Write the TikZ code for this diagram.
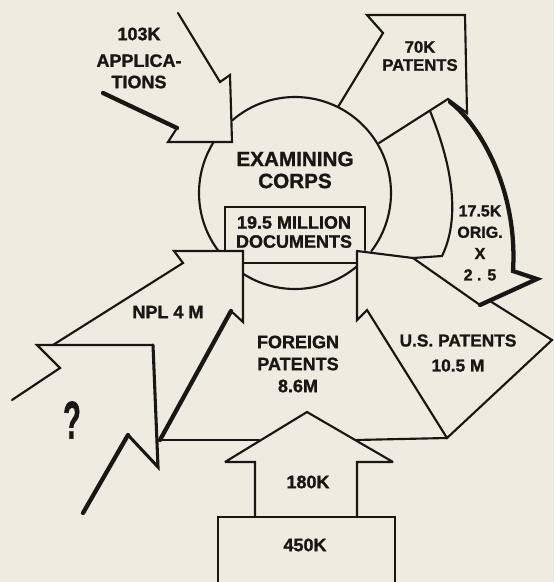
\documentclass[tikz,border=0pt]{standalone}
\usepackage{fontspec}
\setmainfont{Liberation Sans}[BoldFeatures={FakeBold=1.2}]
\definecolor{paper}{RGB}{239,235,224}
\definecolor{ink}{RGB}{26,22,20}
\tikzset{every picture/.style={line width=1.6pt}}
\tikzset{
  heavy/.style={line width=3.2pt},
  medium/.style={line width=2.3pt},
  lbl/.style={inner sep=0.75pt, align=center, text=ink, font=\bfseries\fontsize{13.5}{16}\selectfont},
}

\begin{document}
\begin{tikzpicture}[x=0.75pt,y=0.75pt,yscale=-1,xscale=1,draw=ink,line cap=round,line join=miter,miter limit=3]
\fill[paper] (0,0) rectangle (554,582);
\useasboundingbox (0,0) rectangle (554,582);

%Circle: examining corps (hidden under the heads)
\draw (295,193) ++(-131:96) arc[start angle=-131, end angle=37.2, radius=96];
\draw (295,193) ++(49.8:96) arc[start angle=49.8, end angle=122.8, radius=96];
\draw (295,193) ++(142.8:96) arc[start angle=142.8, end angle=212.1, radius=96];

%Shape: applications arrow
\draw (178,13) -- (220,82) -- (230,75) -- (232,142) -- (168,142) -- (177,128);
\draw [heavy] (177,128) -- (103,93);
%Shape: 70K patents arrow
\draw (338,107) -- (383,33) -- (367,15) -- (465,15) -- (467,113) -- (448,99) -- (379,143);
%Shape: curved arrow, 17.5K
\draw (430,111) .. controls (450,160) and (462,215) .. (442,256) -- (413,258) -- (480,305);
\draw [heavy] (450,102) .. controls (480,125) and (518,190) .. (513,271) -- (537,279) -- (480,305);
%Shape: U.S. patents arrow
\draw (357,251) -- (413,258);
\draw (490,301) -- (552,340) -- (447,438) -- (367,310) -- (357,320) -- (357,251);
%Shape: documents box
\draw (225,250) -- (225,207) -- (365,207) -- (365,250);
%Shape: NPL arrow
\draw (53,345) -- (183,263) -- (174,251) -- (243,251) -- (243,322) -- (231,311);
\draw [heavy] (231,311) -- (160,440);
%Shape: foreign patents
\draw (243,263) -- (357,263);
\draw (158,440) -- (259,440);
\draw (356,440) -- (447,438);
%Shape: unknown arrow
\draw (12,400) -- (60,368) -- (37,345) -- (153,345);
\draw [medium] (153,345) -- (158,467) -- (128,435);
\draw [heavy] (128,435) -- (83,513);
%Shape: 180K arrow
\draw (255,517) -- (255,462) -- (225,462) -- (307,412) -- (393,462) -- (357,462) -- (357,517);
%Shape: 450K box
\draw (218,582) -- (218,517) -- (395,517) -- (395,582);

% Text Node
\draw (139,58) node [lbl] (apps) {103K\\[4pt]APPLICA-\\TIONS};
% Text Node
\draw (420,56) node [lbl, font=\bfseries\fontsize{12.5}{13.5}\selectfont] (granted) {70K\\PATENTS};
% Text Node
\draw (295,170) node [lbl, font=\bfseries\fontsize{15.5}{16.5}\selectfont] (corps) {EXAMINING\\CORPS};
% Text Node
\draw (294,232) node [lbl, font=\bfseries\fontsize{13.5}{14.3}\selectfont] (docs) {19.5 MILLION\\DOCUMENTS};
% Text Node
\draw (168,312) node [lbl] (npl) {NPL 4 M};
% Text Node
\draw (298,364) node [lbl, font=\bfseries\fontsize{13.5}{16.5}\selectfont] (foreign) {FOREIGN\\PATENTS\\8.6M};
% Text Node
\draw (458,353) node [lbl, font=\bfseries\fontsize{13}{18.75}\selectfont] (uspat) {U.S. PATENTS\\10.5 M};
% Text Node
\draw (480,243) node [lbl, font=\bfseries\fontsize{12}{16}\selectfont] (orig) {17.5K\\ORIG.\\X\\2 . 5};
% Text Node
\draw (308,482) node [lbl] (inflow) {180K};
% Text Node
\draw (305,545) node [lbl] (stock) {450K};
% Text Node
\draw (72,420) node [lbl] (unknown) {\scalebox{0.55}[1]{\fontsize{40}{40}\selectfont ?}};

\end{tikzpicture}
\end{document}
